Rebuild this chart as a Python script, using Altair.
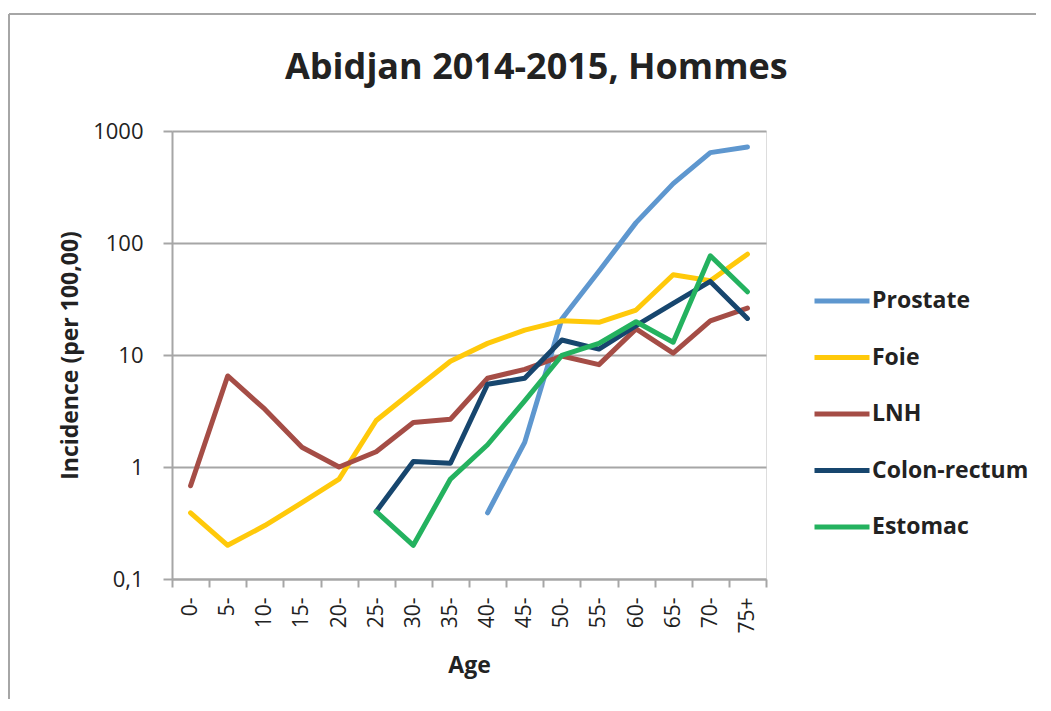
import altair as alt
import pandas as pd

ages = ["0-", "5-", "10-", "15-", "20-", "25-", "30-", "35-", "40-", "45-",
        "50-", "55-", "60-", "65-", "70-", "75+"]

prostate = [None, None, None, None, None, None, None, None,
            0.39, 1.66, 21, 56, 152, 339, 641, 720]
foie = [0.39, 0.20, 0.30, 0.48, 0.78, 2.6, 4.8, 8.8, 12.7, 16.7,
        20.2, 19.6, 25.2, 52, 46, 79.5]
lnh = [0.68, 6.5, 3.28, 1.50, 1.0, 1.37, 2.5, 2.67, 6.2, 7.45,
       9.8, 8.2, 17.1, 10.4, 20.2, 26.2]
colon = [None, None, None, None, None, 0.40, 1.12, 1.08, 5.48, 6.2,
         13.6, 11.3, 18.3, 28.9, 45.4, 21.2]
estomac = [None, None, None, None, None, 0.40, 0.20, 0.78, 1.58, 3.9,
           9.9, 12.7, 19.8, 13.0, 76.9, 36.7]

series_names = ["Prostate", "Foie", "LNH", "Colon-rectum", "Estomac"]
series_values = [prostate, foie, lnh, colon, estomac]
series_colors = ["#5e97cf", "#ffc90a", "#a54d46", "#17466e", "#24b25f"]

y_ticks = [0.1, 1, 10, 100, 1000]

rows = []
for name, vals in zip(series_names, series_values):
    for a, v in zip(ages, vals):
        if v is not None:
            rows.append({"Age": a, "Cancer": name, "Incidence": v})
df = pd.DataFrame(rows)

FONT = "Open Sans"

lines = alt.Chart(df).mark_line(strokeWidth=5, strokeCap="round", strokeJoin="round").encode(
    x=alt.X("Age:O", sort=ages, bandPosition=0.5,
            scale=alt.Scale(type="band", domain=ages, paddingInner=0, paddingOuter=0),
            axis=alt.Axis(title="Age", labelAngle=270, tickBand="extent", grid=False,
                          domainColor="#a6a6a6", domainWidth=2, tickColor="#a6a6a6",
                          tickWidth=2, tickSize=8, labelPadding=10,
                          labelFont=FONT, labelFontSize=21, labelColor="#222222",
                          titleFont=FONT, titleFontSize=23, titleFontWeight="bold",
                          titleColor="#222222", titlePadding=21)),
    y=alt.Y("Incidence:Q",
            scale=alt.Scale(type="log", domain=[0.1, 1000], nice=False),
            axis=alt.Axis(title="Incidence (per 100,00)", values=y_ticks,
                          labelExpr="replace(format(datum.value, '~g'), '.', ',')",
                          grid=True, gridColor="#a6a6a6", gridWidth=2,
                          domainColor="#a6a6a6", domainWidth=2, tickColor="#a6a6a6",
                          tickWidth=2, tickSize=9, labelPadding=20,
                          labelFont=FONT, labelFontSize=22, labelColor="#222222",
                          titleFont=FONT, titleFontSize=23, titleFontWeight="bold",
                          titleColor="#222222", titlePadding=10)),
    color=alt.Color("Cancer:N", sort=series_names,
                    scale=alt.Scale(domain=series_names, range=series_colors),
                    legend=alt.Legend(title=None, orient="none", legendX=640, legendY=140,
                                      symbolType="stroke", symbolStrokeWidth=5,
                                      symbolSize=3025, labelFont=FONT, labelFontSize=23,
                                      labelFontWeight="bold", labelColor="#222222",
                                      labelLimit=300, labelOffset=0, rowPadding=14.5,
                                      padding=0)),
    order=alt.Order("Cancer:N", sort="ascending"),
)

frame_top = alt.Chart(df).mark_rule(color="#a6a6a6", strokeWidth=2).encode(
    x=alt.value(-163), x2=alt.value(900), y=alt.value(-117))
frame_left = alt.Chart(df).mark_rule(color="#a6a6a6", strokeWidth=2).encode(
    x=alt.value(-163), y=alt.value(-117), y2=alt.value(600))

chart = alt.layer(frame_top, frame_left, lines).properties(
    width=594, height=448,
    title=alt.TitleParams("Abidjan 2014-2015, Hommes", anchor="start", frame="group", dx=113,
                          font=FONT, fontSize=36, fontWeight="bold", color="#222222",
                          baseline="alphabetic", offset=10, dy=112),
    autosize=alt.AutoSizeParams(type="none"),
    padding={"left": 164, "top": 123, "right": 270, "bottom": 120},
).configure_view(stroke=None).configure(background="white")

chart.save("out.html", embed_options={"renderer": "svg", "actions": False})
